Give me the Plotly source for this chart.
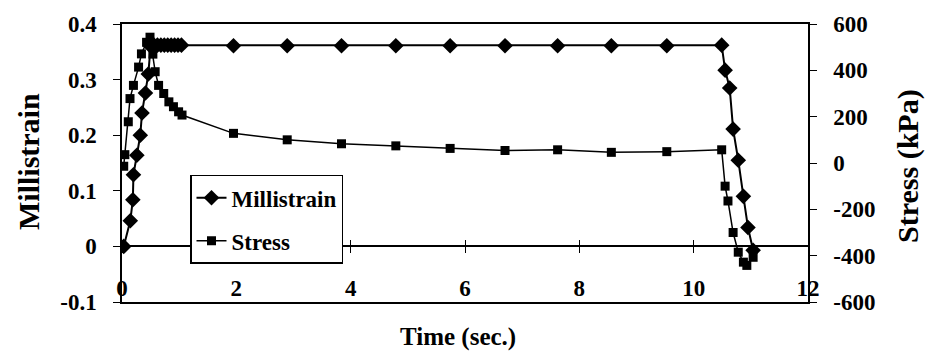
import plotly.graph_objects as go

# ---------------- data ----------------
time_strain = [0.03, 0.145, 0.19, 0.2, 0.26, 0.32, 0.35, 0.41, 0.46,
               0.5, 0.56, 0.62, 0.68, 0.74, 0.8, 0.86, 0.92, 0.98, 1.04,
               1.95, 2.89, 3.84, 4.79, 5.74, 6.70, 7.62, 8.56, 9.53,
               10.49, 10.55, 10.63, 10.69, 10.78, 10.87, 10.95, 11.04]
millistrain = [0.0, 0.046, 0.084, 0.129, 0.164, 0.2, 0.24, 0.276, 0.31,
               0.36, 0.362, 0.362, 0.362, 0.362, 0.362, 0.362, 0.362, 0.362, 0.362,
               0.361, 0.361, 0.361, 0.361, 0.361, 0.361, 0.361, 0.361, 0.361,
               0.362, 0.317, 0.285, 0.211, 0.155, 0.09, 0.034, -0.007]

time_stress = [0.03, 0.05, 0.11, 0.14, 0.2, 0.29, 0.34, 0.43, 0.49,
               0.54, 0.58, 0.64, 0.73, 0.82, 0.9, 0.99, 1.05,
               1.95, 2.89, 3.84, 4.79, 5.74, 6.70, 7.62, 8.56, 9.53,
               10.49, 10.55, 10.6, 10.69, 10.78, 10.87, 10.93, 11.04]
stress = [-14, 36, 178, 278, 335, 414, 471, 521, 543,
          470, 394, 335, 300, 264, 243, 221, 207,
          128, 100, 83, 74, 63, 54, 57, 46, 49,
          57, -100, -164, -300, -385, -428, -442, -407]

x_ticks = [0, 2, 4, 6, 8, 10, 12]
x_ticklabels = ["0", "2", "4", "6", "8", "10", "12"]
y1_ticks = [-0.1, 0, 0.1, 0.2, 0.3, 0.4]
y1_ticklabels = ["-0.1", "0", "0.1", "0.2", "0.3", "0.4"]
y2_ticks = [-600, -400, -200, 0, 200, 400, 600]
y2_ticklabels = ["-600", "-400", "-200", "0", "200", "400", "600"]

FONT = "Liberation Serif"

fig = go.Figure()
fig.add_trace(go.Scatter(
    x=time_strain, y=millistrain, name="Millistrain", mode="lines+markers",
    line=dict(color="black", width=2),
    marker=dict(symbol="diamond", size=12, color="black"),
    legendgroup="a", xaxis="x", yaxis="y"))
fig.add_trace(go.Scatter(
    x=time_stress, y=stress, name="Stress", mode="lines+markers",
    line=dict(color="black", width=1.5),
    marker=dict(symbol="square", size=9, color="black"),
    legendgroup="b", xaxis="x", yaxis="y2"))
# invisible helpers so the zero-line axes get drawn
fig.add_trace(go.Scatter(x=[None], y=[None], xaxis="x2", yaxis="y",
                         showlegend=False, hoverinfo="skip"))
fig.add_trace(go.Scatter(x=[None], y=[None], xaxis="x3", yaxis="y",
                         showlegend=False, hoverinfo="skip"))

tickfont = dict(family=FONT, size=23, color="black", weight="bold")

fig.update_layout(
    width=926, height=364,
    margin=dict(l=122, r=118, t=20, b=62),
    paper_bgcolor="white", plot_bgcolor="white",
    font=dict(family=FONT, color="black"),
    xaxis=dict(range=[0, 12], showgrid=False, zeroline=False,
               showline=True, linecolor="black", linewidth=1.5, mirror=True,
               ticks="", showticklabels=False),
    xaxis2=dict(range=[0, 12], overlaying="x", anchor="free", position=0.2,
                side="bottom", showgrid=False, zeroline=False,
                showline=True, linecolor="black", linewidth=1.5,
                tickvals=x_ticks, ticktext=x_ticklabels,
                ticks="outside", ticklen=6, tickcolor="black",
                ticklabelstandoff=15,
                tickfont=tickfont),
    xaxis3=dict(range=[0, 12], overlaying="x", anchor="free", position=0.2,
                side="top", showgrid=False, zeroline=False, showline=False,
                tickvals=x_ticks, ticks="outside", ticklen=6, tickcolor="black",
                showticklabels=False),
    yaxis=dict(range=[-0.1, 0.4], showgrid=False, zeroline=False,
               showline=True, linecolor="black", linewidth=1.5,
               tickvals=y1_ticks, ticktext=y1_ticklabels,
               ticks="outside", ticklen=7, tickcolor="black",
               ticklabelstandoff=12, tickfont=tickfont),
    yaxis2=dict(range=[-600, 600], overlaying="y", side="right",
                showgrid=False, zeroline=False,
                showline=True, linecolor="black", linewidth=1.5,
                tickvals=y2_ticks, ticktext=y2_ticklabels,
                ticks="outside", ticklen=7, tickcolor="black",
                ticklabelstandoff=12, tickfont=tickfont),
    legend=dict(x=(190 - 122) / 686, y=(302 - 173) / 282,
                xanchor="left", yanchor="top",
                bgcolor="white", bordercolor="black", borderwidth=1.5,
                font=dict(family=FONT, size=23, color="black", weight="bold"),
                tracegroupgap=10, traceorder="grouped"),
    showlegend=True,
    annotations=[
        dict(text="<b>Millistrain</b>", xref="paper", yref="paper",
             x=(28 - 122) / 686, y=(302 - 160) / 282, textangle=-90,
             showarrow=False, font=dict(family=FONT, size=30, color="black"),
             xanchor="center", yanchor="middle"),
        dict(text="<b>Stress (kPa)</b>", xref="paper", yref="paper",
             x=(908 - 122) / 686, y=(302 - 164) / 282, textangle=-90,
             showarrow=False, font=dict(family=FONT, size=30, color="black"),
             xanchor="center", yanchor="middle"),
        dict(text="<b>Time (sec.)</b>", xref="paper", yref="paper",
             x=(458 - 122) / 686, y=(302 - 337) / 282,
             showarrow=False, font=dict(family=FONT, size=25, color="black"),
             xanchor="center", yanchor="middle"),
    ],
)

fig.write_html("out.html")
